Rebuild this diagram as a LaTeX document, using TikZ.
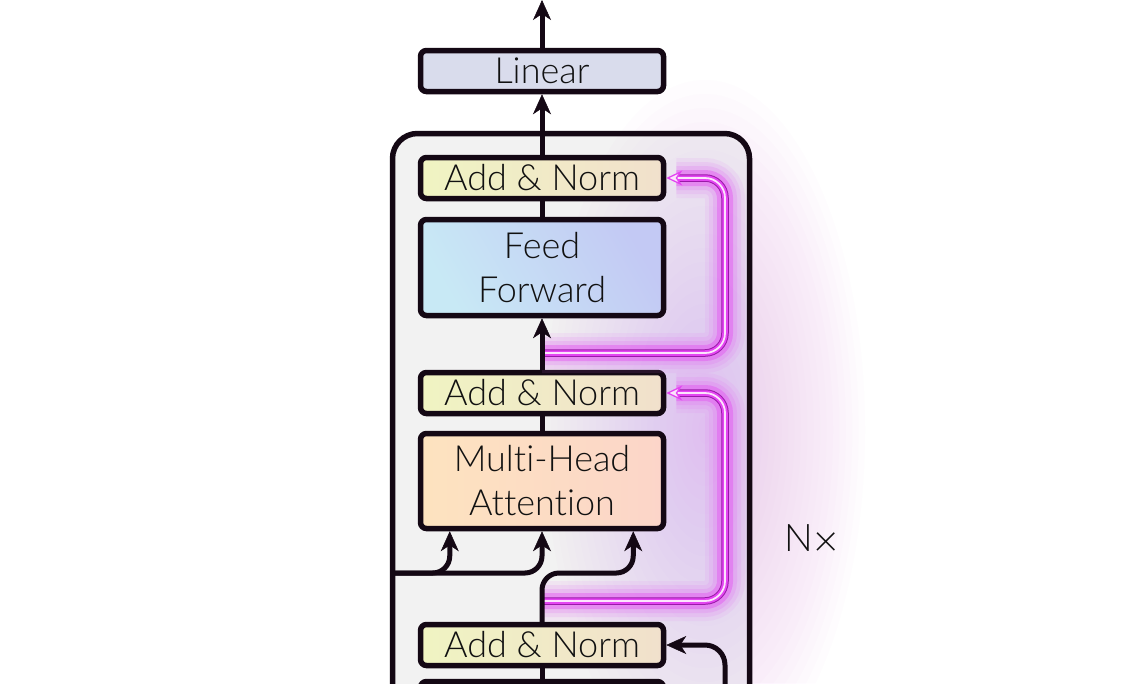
\documentclass[tikz,border=0pt]{standalone}
\usepackage{fontspec}
\setmainfont{Lato Light}[Ligatures={NoCommon}]
\usetikzlibrary{arrows.meta,calc}
\definecolor{ink}{HTML}{140814}
\definecolor{txt}{HTML}{111111}
\definecolor{outerfill}{HTML}{F2F2F2}
\definecolor{linfill}{HTML}{D9DCEC}
\definecolor{anL}{HTML}{F0F4C2}
\definecolor{anR}{HTML}{F1E0CC}
\definecolor{ffA}{HTML}{C8E9F5}
\definecolor{ffB}{HTML}{C3C9F4}
\definecolor{mhaL}{HTML}{FDE3BF}
\definecolor{mhaR}{HTML}{FCD5C9}
\definecolor{glowc}{HTML}{E070F0}
\definecolor{mdark}{HTML}{9A1AA8}
\definecolor{mbright}{HTML}{E445F2}
\definecolor{mlight}{HTML}{FCE4FC}
\tikzset{
  box/.style={draw=ink, line width=5.5pt, rounded corners=6pt, inner sep=0pt,
    minimum width=243pt, text=txt, align=center,
    font=\fontsize{36}{44}\selectfont},
  anbox/.style={box, minimum height=41pt, left color=anL, right color=anR},
  arr/.style={draw=ink, line width=5pt,
    -{Stealth[length=20pt,width=18pt,inset=6pt,line width=0.5pt]}},
  plain/.style={draw=ink, line width=5pt},
  resid/.style={rounded corners=20pt,
    preaction={arrows=-, draw=glowc, line width=40pt, opacity=0.10, shorten >=10pt},
    preaction={arrows=-, draw=glowc, line width=32pt, opacity=0.15, shorten >=10pt},
    preaction={arrows=-, draw=glowc, line width=24pt, opacity=0.22, shorten >=10pt},
    preaction={arrows=-, draw=mbright, line width=16pt, opacity=0.38, shorten >=10pt},
    preaction={arrows=-, draw=mdark, line width=7.5pt, shorten >=11pt},
    preaction={arrows=-, draw=mbright, line width=5.5pt, shorten >=11pt},
    draw=mlight, line width=1.8pt,
    -{Stealth[length=16pt,width=15pt,inset=5pt,line width=1.3pt,fill=mlight,color=mbright]}},
}
\begin{document}
\begin{tikzpicture}[x=1pt,y=-1pt]
\useasboundingbox (0,0) rectangle (1139,683);
\clip (0,0) rectangle (1139,683);
\fill[white] (0,0) rectangle (1139,683);
% outer block fill
\fill[outerfill, rounded corners=25pt] (392.5,133.5) rectangle (749.5,800);
% soft glow
\foreach \i in {1,...,25}{
  \fill[glowc, opacity=0.014] (705,430) ellipse [x radius=\i*6.4, y radius=\i*14];
}
% outer block border
\draw[ink, line width=5.5pt, rounded corners=25pt] (392.5,800) -- (392.5,133.5) -- (749.5,133.5) -- (749.5,800);

% boxes
\node[box, minimum height=41pt, fill=linfill] (lin) at (542,71) {Linear};
\node[anbox] (an1) at (542,178) {Add \& Norm};
\node[box, minimum height=96pt, left color=ffA, right color=ffB, shading angle=120] (ff) at (542,267.5) {Feed\\Forward};
\node[anbox] (an2) at (542,393) {Add \& Norm};
\node[box, minimum height=95pt, left color=mhaL, right color=mhaR] (mha) at (542,481) {Multi-Head\\Attention};
\node[anbox] (an3) at (542,645) {Add \& Norm};
\node[box, minimum height=95pt, left color=mhaL, right color=mhaR] (mmha) at (542,729) {};

% coordinates
\coordinate (top) at (542,0);
\coordinate (r1) at (542,353);
\coordinate (r2) at (542,601);
\coordinate (enc) at (390,573);
\coordinate (in1) at ([xshift=32pt]mha.south west);
\coordinate (in3) at ([xshift=-33pt]mha.south east);
\coordinate (bres) at (725,720);
\coordinate (xr1) at (725,178);
\coordinate (xr2) at (725,393);

% residual glowing paths
\draw[resid] (r1) -| (xr1) -- (an1.east);
\draw[resid] (r2) -| (xr2) -- (an2.east);

% main flow
\draw[arr] (lin.north) -- (top);
\draw[arr] (an1.north) -- (lin.south);
\draw[plain] (ff.north) -- (an1.south);
\draw[arr] (an2.north) -- (ff.south);
\draw[plain] (mha.north) -- (an2.south);
\draw[plain] (mmha.north) -- (an3.south);

% attention inputs
\draw[arr, rounded corners=17pt] (enc) -| (in1);
\draw[arr, rounded corners=17pt] (enc) -| (mha.south);
\draw[arr, rounded corners=17pt] (an3.north) |- (in3 |- enc) -- (in3);

% lower residual
\draw[arr, rounded corners=20pt] (bres) |- (an3.east);

\node[text=txt, font=\fontsize{38}{40}\selectfont] (nx) at (812,541) {N\raisebox{-5pt}{\scalebox{1.15}{×}}};
\end{tikzpicture}
\end{document}
